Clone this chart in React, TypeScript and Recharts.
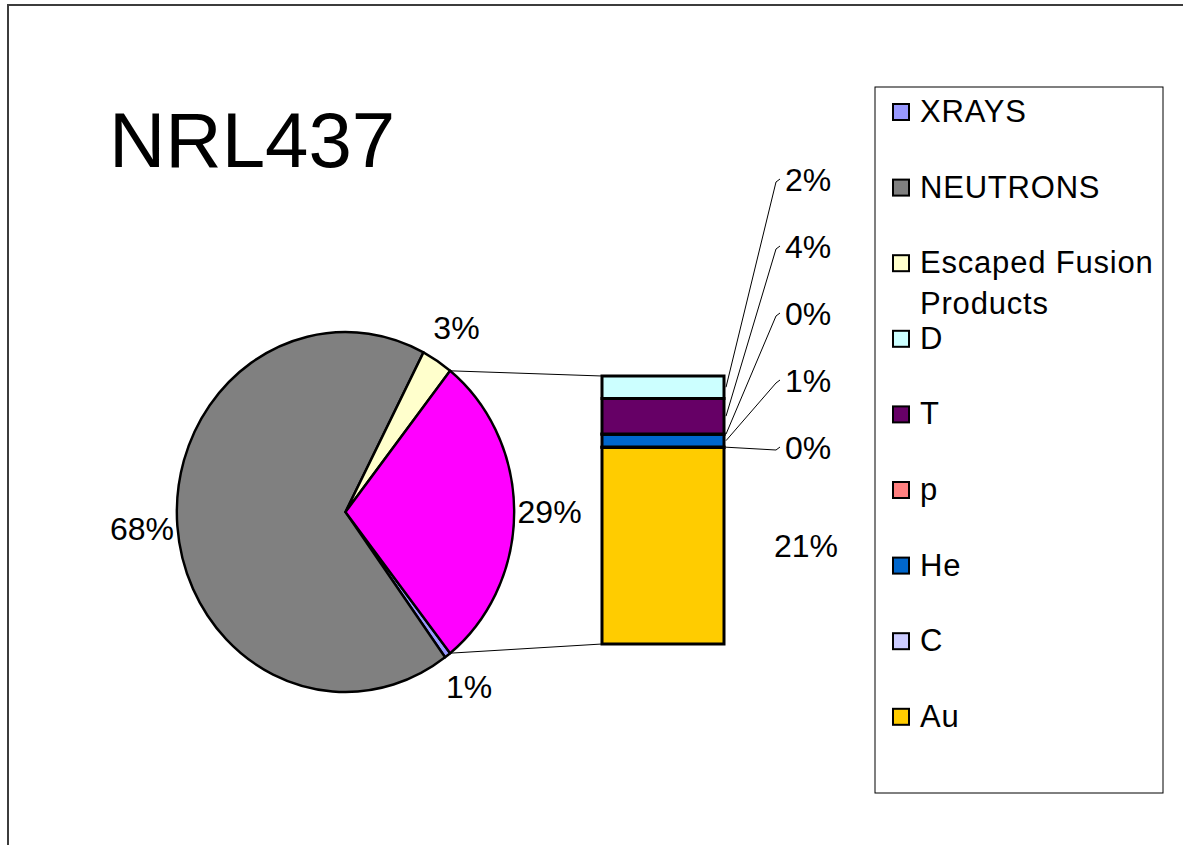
import { PieChart, Pie, Cell, BarChart, Bar, XAxis, YAxis, LabelList } from 'recharts'

const W = 1183
const H = 845
const FONT = '"Liberation Sans", Arial, Helvetica, sans-serif'

// pie slices, clockwise from where the split-out slice ends
const PIE_NAMES = ['XRAYS', 'NEUTRONS', 'Escaped Fusion Products']
const PIE_VALUES = [0.6, 67.7, 3.0]
const PIE_COLORS = ['#9999ff', '#808080', '#ffffcc']
const OTHER_COLOR = '#ff00ff'

// the split-out slice, shown as the stacked bar (top to bottom)
const BAR_NAMES = ['D', 'T', 'p', 'He', 'C', 'Au']
const BAR_VALUES = [2.4, 3.8, 0.05, 1.35, 0.05, 21.05]
const BAR_COLORS = ['#ccffff', '#660066', '#ff8080', '#0066cc', '#ccccff', '#ffcc00']

const OTHER_TOTAL = BAR_VALUES.reduce((s, v) => s + v, 0)
const GRAND_TOTAL = PIE_VALUES.reduce((s, v) => s + v, 0) + OTHER_TOTAL
const BAR_MAX = Math.max(...BAR_VALUES)

const pieData = [
  ...PIE_NAMES.map((name, i) => ({ name, value: PIE_VALUES[i] })),
  { name: 'Other', value: OTHER_TOTAL },
]
const pieColors = [...PIE_COLORS, OTHER_COLOR]
const barData = [{ name: 'Other', ...Object.fromEntries(BAR_NAMES.map((n, i) => [n, BAR_VALUES[i]])) }]

const legendNames = [...PIE_NAMES, ...BAR_NAMES]
const legendColors = [...PIE_COLORS, ...BAR_COLORS]

// layout
const PIE_CX = 345.5
const PIE_CY = 512
const PIE_R = 180
const PIE_SX = 0.937 // the pie is drawn slightly narrower than tall
const START = -(OTHER_TOTAL / GRAND_TOTAL) * 180
const BAR_L = 602
const BAR_R = 724
const BAR_T = 376
const BAR_B = 644
const LEAD_X = 785
const LEAD_Y0 = 180
const LEAD_STEP = 67
const LEG_X = 875
const LEG_Y = 87
const LEG_W = 288
const LEG_H = 706
const LEG_ROW0 = 112
const LEG_STEP = 75.6

const RAD = Math.PI / 180
const leaderOrder = BAR_VALUES.map((v, i) => (v === BAR_MAX ? -1 : i)).filter(i => i >= 0)
const pct = (v: number) => `${Math.round((v / GRAND_TOTAL) * 100)}%`

function PieLabel(props: any) {
  const { cx, cy, midAngle, outerRadius, percent } = props
  const x = cx + outerRadius * 1.21 * Math.cos(-midAngle * RAD)
  const y = cy + outerRadius * 1.22 * Math.sin(-midAngle * RAD)
  return (
    <text
      x={x} y={y} textAnchor="middle" dominantBaseline="central"
      fontSize={32} fontFamily={FONT} fill="#000"
      transform={`translate(${x} ${y}) scale(${1 / PIE_SX} 1) translate(${-x} ${-y})`}
    >
      {Math.round(percent * 100)}%
    </text>
  )
}

function barLabel(i: number) {
  return (props: any) => {
    const x = Number(props.x), y = Number(props.y)
    const w = Number(props.width), h = Number(props.height)
    const mid = y + h / 2
    if (BAR_VALUES[i] === BAR_MAX) {
      return (
        <text x={x + w + 50} y={mid} dominantBaseline="central" fontSize={32} fontFamily={FONT} fill="#000">
          {pct(BAR_VALUES[i])}
        </text>
      )
    }
    const ly = LEAD_Y0 + leaderOrder.indexOf(i) * LEAD_STEP
    return (
      <g>
        <polyline
          points={`${x + w + 2},${mid} ${LEAD_X - 9},${ly + 2} ${LEAD_X - 5},${ly - 1}`}
          fill="none" stroke="#000" strokeWidth={1}
        />
        <text x={LEAD_X} y={ly} dominantBaseline="central" fontSize={32} fontFamily={FONT} fill="#000">
          {pct(BAR_VALUES[i])}
        </text>
      </g>
    )
  }
}

export default function App() {
  const a = -START * RAD
  const joinX = PIE_CX + PIE_R * PIE_SX * Math.cos(a)
  const joinTop = PIE_CY - PIE_R * Math.sin(a)
  const joinBot = PIE_CY + PIE_R * Math.sin(a)

  return (
    <div style={{ position: 'absolute', left: 0, top: 0, width: W, height: H, background: '#fff', overflow: 'hidden', fontFamily: FONT }}>
      <div style={{ position: 'absolute', left: 0, top: 0, transform: `scaleX(${PIE_SX})`, transformOrigin: `${PIE_CX}px ${PIE_CY}px` }}>
        <PieChart width={W} height={H} margin={{ top: 0, right: 0, bottom: 0, left: 0 }}>
          <Pie
            data={pieData} dataKey="value" nameKey="name"
            cx={PIE_CX} cy={PIE_CY} outerRadius={PIE_R}
            startAngle={START} endAngle={START - 360}
            stroke="#000" strokeWidth={2.6} strokeLinejoin="round"
            label={PieLabel} labelLine={false}
            isAnimationActive={false}
          >
            {pieData.map((d, i) => <Cell key={d.name} fill={pieColors[i]} />)}
          </Pie>
        </PieChart>
      </div>

      <div style={{ position: 'absolute', left: 0, top: 0 }}>
        <BarChart
          width={W} height={H} data={barData} barCategoryGap={0}
          margin={{ top: BAR_T, left: BAR_L, right: W - BAR_R, bottom: H - BAR_B }}
        >
          <XAxis dataKey="name" hide />
          <YAxis hide domain={[0, OTHER_TOTAL]} />
          {BAR_NAMES.map((_, j) => BAR_NAMES.length - 1 - j).map(i => (
            <Bar
              key={BAR_NAMES[i]} dataKey={BAR_NAMES[i]} stackId="other"
              fill={BAR_COLORS[i]} stroke="#000" strokeWidth={3}
              isAnimationActive={false}
            >
              <LabelList dataKey={BAR_NAMES[i]} content={barLabel(i)} />
            </Bar>
          ))}
        </BarChart>
      </div>

      <svg width={W} height={H} style={{ position: 'absolute', left: 0, top: 0, pointerEvents: 'none' }}>
        <rect x={8} y={5} width={W + 20} height={H + 20} fill="none" stroke="#3c3c3c" strokeWidth={2} />
        <text x={109} y={167} fontSize={78} fontFamily={FONT} fill="#000">NRL437</text>

        <line x1={joinX} y1={joinTop} x2={BAR_L} y2={BAR_T} stroke="#000" strokeWidth={1} />
        <line x1={joinX} y1={joinBot} x2={BAR_L} y2={BAR_B} stroke="#000" strokeWidth={1} />

        <rect x={LEG_X} y={LEG_Y} width={LEG_W} height={LEG_H} fill="none" stroke="#000" strokeWidth={1} />
        {legendNames.map((name, i) => {
          const cy = LEG_ROW0 + i * LEG_STEP
          const lines = name === 'Escaped Fusion Products' ? ['Escaped Fusion', 'Products'] : [name]
          return (
            <g key={name}>
              <rect x={893} y={cy - 8} width={16} height={16} fill={legendColors[i]} stroke="#000" strokeWidth={2} />
              {lines.map((t, k) => (
                <text key={t} x={920} y={cy + 10 + k * 41} fontSize={31} letterSpacing={0.8} fontFamily={FONT} fill="#000">{t}</text>
              ))}
            </g>
          )
        })}
      </svg>
    </div>
  )
}
